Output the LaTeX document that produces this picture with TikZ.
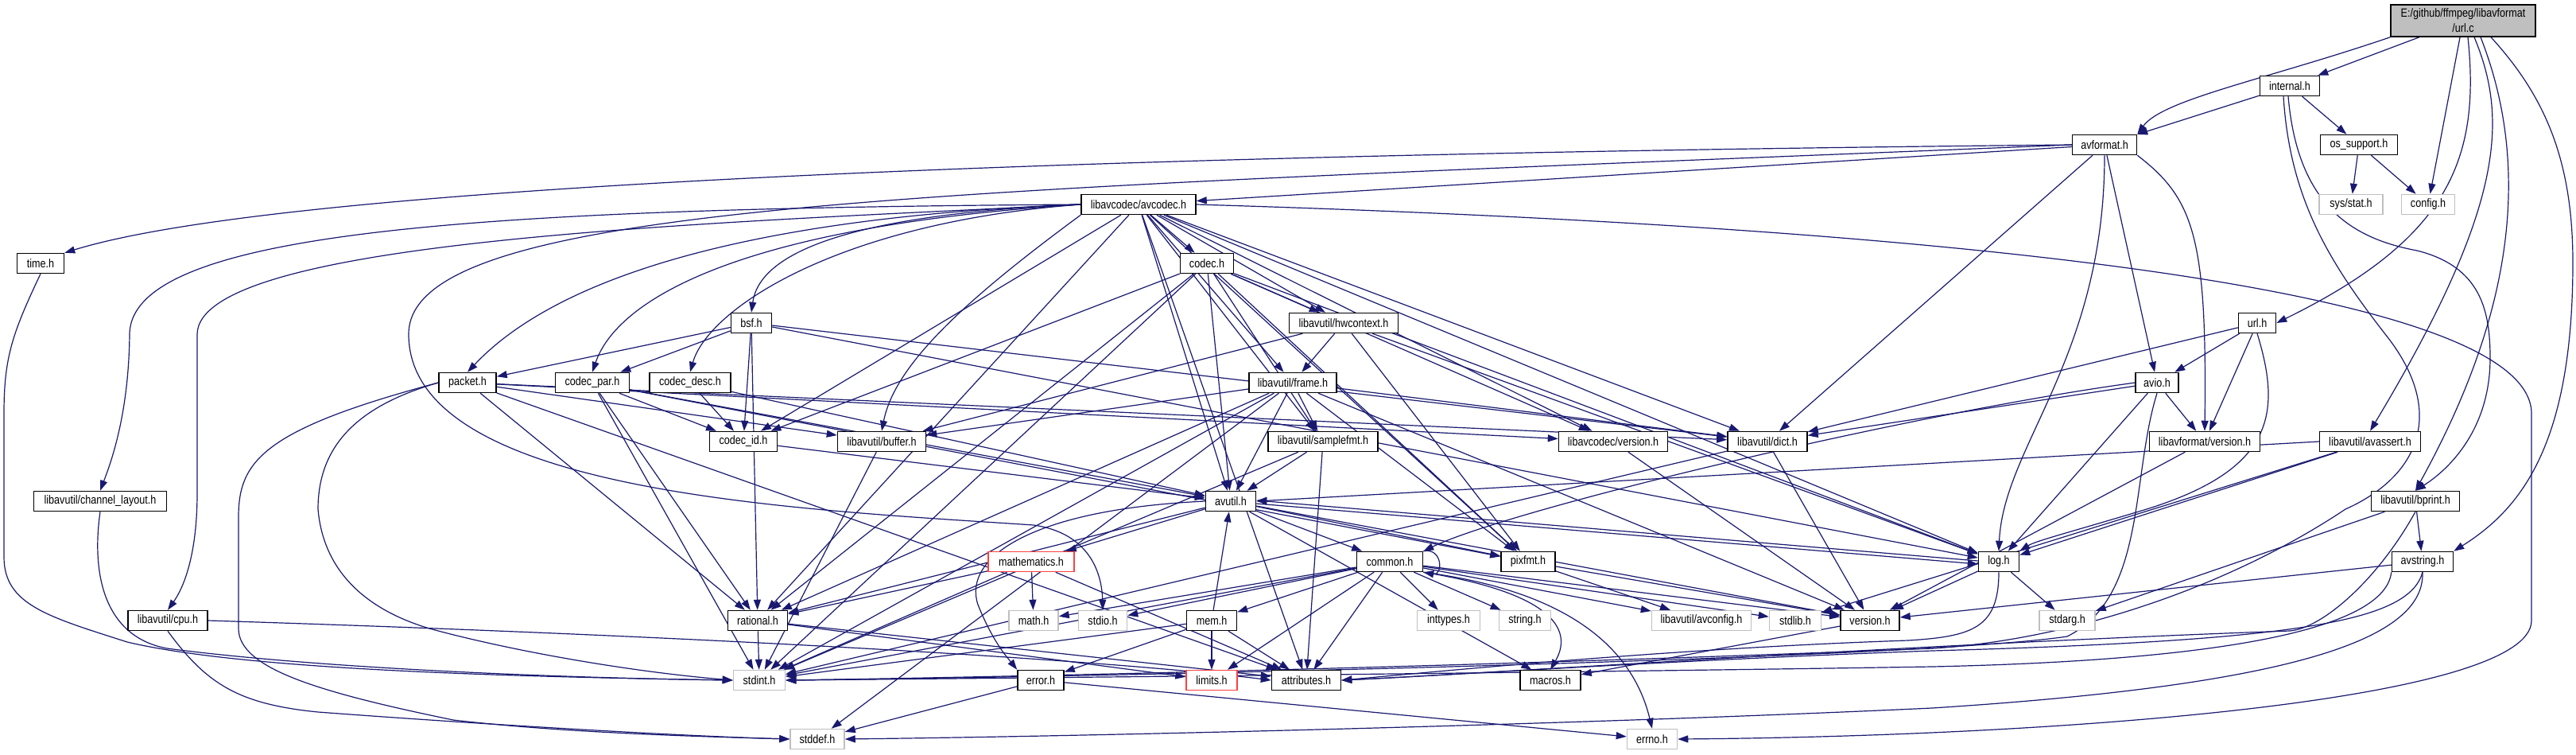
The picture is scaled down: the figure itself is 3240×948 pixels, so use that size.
\documentclass[tikz,border=0pt]{standalone}
\usepackage{fontspec}
\setmainfont{Liberation Sans}[FakeStretch=0.84]
\usetikzlibrary{arrows.meta}
\definecolor{edgeblue}{RGB}{25,25,112}
\definecolor{sysgray}{RGB}{191,191,191}
\definecolor{truncred}{RGB}{255,64,64}
\definecolor{filegray}{RGB}{191,191,191}
\pgfdeclarelayer{bg}
\pgfdeclarelayer{edges}
\pgfsetlayers{bg,edges,main}
\tikzset{
  nd/.style={draw=black, line width=1.5pt, fill=white, minimum height=25pt, inner sep=0pt, font=\fontsize{15}{17}\selectfont},
  sys/.style={nd, draw=sysgray},
  trn/.style={nd, draw=truncred},
  e/.style={draw=edgeblue, line width=1.2pt, -{Triangle[length=13pt,width=9pt]}},
}
\begin{document}
\begin{tikzpicture}[x=1pt,y=-1pt]
\begin{pgfonlayer}{bg}
\fill[white] (0,0) rectangle (3240,948);
\end{pgfonlayer}
\useasboundingbox (0,0) rectangle (3240,948);
% nodes
\node[nd, fill=filegray, minimum width=182pt, minimum height=40pt, align=center, font=\fontsize{15}{19}\selectfont] (urlc) at (3098,26) {E:/github/ffmpeg/libavformat\\/url.c};
\node[nd, minimum width=75pt] (internal) at (2880,108) {internal.h};
\node[nd, minimum width=81pt] (avformat) at (2647,182) {avformat.h};
\node[nd, minimum width=97pt] (ossupport) at (2967,182) {os\_support.h};
\node[sys, minimum width=80pt] (sysstat) at (2957,257) {sys/stat.h};
\node[sys, minimum width=67pt] (config) at (3054,257) {config.h};
\node[nd, minimum width=144pt] (avcodec) at (1432,257) {libavcodec/avcodec.h};
\node[nd, minimum width=67pt] (codec) at (1518,331) {codec.h};
\node[nd, minimum width=59pt] (timeh) at (51,331) {time.h};
\node[nd, minimum width=51pt] (bsf) at (945,406) {bsf.h};
\node[nd, minimum width=137pt] (hwcontext) at (1690,406) {libavutil/hwcontext.h};
\node[nd, minimum width=47pt] (urlh) at (2839,406) {url.h};
\node[nd, minimum width=72pt] (packet) at (588,481) {packet.h};
\node[nd, minimum width=93pt] (codecpar) at (745,481) {codec\_par.h};
\node[nd, minimum width=102pt] (codecdesc) at (868,481) {codec\_desc.h};
\node[nd, minimum width=110pt] (frame) at (1626,481) {libavutil/frame.h};
\node[nd, minimum width=54pt] (avio) at (2713,481) {avio.h};
\node[nd, minimum width=85pt] (codecid) at (935,555) {codec\_id.h};
\node[nd, minimum width=111pt] (buffer) at (1109,555) {libavutil/buffer.h};
\node[nd, minimum width=138pt] (samplefmt) at (1664,555) {libavutil/samplefmt.h};
\node[nd, minimum width=137pt] (lavcver) at (2029,555) {libavcodec/version.h};
\node[nd, minimum width=100pt] (dict) at (2223,555) {libavutil/dict.h};
\node[nd, minimum width=139pt] (lavfver) at (2773,555) {libavformat/version.h};
\node[nd, minimum width=127pt] (avassert) at (2981,555) {libavutil/avassert.h};
\node[nd, minimum width=167pt] (chlayout) at (126,630) {libavutil/channel\_layout.h};
\node[nd, minimum width=63pt] (avutil) at (1548,630) {avutil.h};
\node[nd, minimum width=111pt] (bprint) at (3038,630) {libavutil/bprint.h};
\node[trn, minimum width=108pt] (mathematics) at (1297,706) {mathematics.h};
\node[nd, minimum width=83pt] (common) at (1748,706) {common.h};
\node[nd, minimum width=68pt] (pixfmt) at (1922,706) {pixfmt.h};
\node[nd, minimum width=51pt] (log) at (2514,706) {log.h};
\node[nd, minimum width=77pt] (avstring) at (3047,706) {avstring.h};
\node[nd, minimum width=100pt] (cpu) at (211,780) {libavutil/cpu.h};
\node[nd, minimum width=75pt] (rational) at (953,780) {rational.h};
\node[sys, minimum width=62pt] (math) at (1300,780) {math.h};
\node[sys, minimum width=61pt] (stdio) at (1387,780) {stdio.h};
\node[nd, minimum width=63pt] (mem) at (1524,780) {mem.h};
\node[sys, minimum width=79pt] (inttypes) at (1822,780) {inttypes.h};
\node[sys, minimum width=65pt] (string) at (1918,780) {string.h};
\node[sys, minimum width=125pt] (avconfig) at (2140,780) {libavutil/avconfig.h};
\node[sys, minimum width=65pt] (stdlib) at (2258,780) {stdlib.h};
\node[nd, minimum width=74pt] (version) at (2352,780) {version.h};
\node[sys, minimum width=70pt] (stdarg) at (2600,780) {stdarg.h};
\node[sys, minimum width=65pt] (stdint) at (955,855) {stdint.h};
\node[nd, minimum width=58pt] (error) at (1309,855) {error.h};
\node[trn, minimum width=64pt] (limits) at (1524,855) {limits.h};
\node[nd, minimum width=87pt] (attributes) at (1643,855) {attributes.h};
\node[nd, minimum width=76pt] (macros) at (1950,855) {macros.h};
\node[sys, minimum width=68pt] (stddef) at (1028,929) {stddef.h};
\node[sys, minimum width=63pt] (errno) at (2078,929) {errno.h};

\begin{pgfonlayer}{edges}
% url.c
\draw[e] (urlc.south west) .. controls (2850,100) and (2720,125) .. (avformat.north east);
\draw[e] (urlc) -- (internal);
\draw[e] (urlc) -- (config);
\draw[e] ([xshift=6pt]urlc.south) .. controls (3120,200) and (3080,300) .. (urlh.east);
\draw[e] ([xshift=14pt]urlc.south) .. controls (3155,150) and (3150,260) .. (avassert.north);
\draw[e] ([xshift=22pt]urlc.south) .. controls (3200,250) and (3130,450) .. (bprint.north);
\draw[e] ([xshift=35pt]urlc.south) .. controls (3200,120) and (3236,200) .. (3236,330) .. controls (3236,560) and (3170,640) .. (avstring.north east);
% internal
\draw[e] (internal) -- (avformat);
\draw[e] (internal) -- (ossupport);
\draw[e] ([xshift=-2pt]internal.south) .. controls (2890,260) and (2960,300) .. (3040,315) .. controls (3120,335) and (3132,390) .. (3132,450) .. controls (3132,540) and (3080,590) .. (bprint.north);
\draw[e] ([xshift=-8pt]internal.south) .. controls (2880,250) and (2930,330) .. (3000,420) .. controls (3080,520) and (3040,600) .. (2950,640) .. controls (2800,740) and (2600,805) .. (2430,815) .. controls (1800,840) and (1200,852) .. (stdint.east);
\draw[e] (ossupport) -- (sysstat);
\draw[e] (ossupport) -- (config);
% avformat
\draw[e] (avformat.west) .. controls (1300,195) and (350,235) .. (timeh.north east);
\draw[e] (avformat.west) .. controls (1200,240) and (514,250) .. (514,420) .. controls (514,620) and (1000,640) .. (1300,660) .. controls (1370,670) and (1386,720) .. (stdio.north);
\draw[e] (avformat) -- (avcodec);
\draw[e] (avformat) -- (dict);
\draw[e] (avformat.south) .. controls (2647,450) and (2520,560) .. (log.north);
\draw[e] (avformat) -- (avio);
\draw[e] (avformat.south east) .. controls (2760,250) and (2776,300) .. (lavfver.north);
% avcodec
\draw[e] (avcodec.east) .. controls (2600,290) and (3184,380) .. (3184,520) -- (3184,780) .. controls (3184,880) and (2600,925) .. (errno.east);
\draw[e] (avcodec) -- (samplefmt);
\draw[e] (avcodec) -- (attributes);
\draw[e] (avcodec) -- (avutil);
\draw[e] (avcodec.south west) .. controls (1210,380) and (1125,460) .. (buffer.north);
\draw[e] (avcodec.west) .. controls (900,280) and (250,300) .. (248,420) -- (248,620) .. controls (248,700) and (230,740) .. (cpu.north);
\draw[e] (avcodec.west) .. controls (600,262) and (165,290) .. (163,420) .. controls (162,520) and (140,580) .. (chlayout.north);
\draw[e] (avcodec) -- (dict);
\draw[e] (avcodec) -- (frame);
\draw[e] (avcodec) -- (hwcontext);
\draw[e] (avcodec) -- (log);
\draw[e] (avcodec) -- (pixfmt);
\draw[e] (avcodec) -- (rational);
\draw[e] (avcodec.west) .. controls (1060,270) and (955,320) .. (bsf.north);
\draw[e] (avcodec) -- (codec);
\draw[e] (avcodec.west) .. controls (1050,280) and (890,390) .. (codecdesc.north);
\draw[e] (avcodec.west) .. controls (920,285) and (775,380) .. (codecpar.north);
\draw[e] (avcodec) -- (codecid);
\draw[e] (avcodec.west) .. controls (880,275) and (680,370) .. (packet.north);
\draw[e] (avcodec) -- (lavcver);
% codec
\draw[e] (codec) -- (stdint);
\draw[e] (codec) -- (avutil);
\draw[e] (codec) -- (hwcontext);
\draw[e] (codec) -- (log);
\draw[e] (codec) -- (pixfmt);
\draw[e] (codec) -- (rational);
\draw[e] (codec) -- (samplefmt);
\draw[e] (codec) -- (codecid);
\draw[e] (codec) -- (lavcver);
% bsf
\draw[e] (bsf) -- (dict);
\draw[e] (bsf) -- (log);
\draw[e] (bsf) -- (rational);
\draw[e] (bsf) -- (codecid);
\draw[e] (bsf) -- (codecpar);
\draw[e] (bsf) -- (packet);
% packet
\draw[e] (packet.west) .. controls (330,540) and (300,580) .. (300,650) -- (300,790) .. controls (300,840) and (400,870) .. (570,905) .. controls (700,920) and (850,925) .. (stddef.west);
\draw[e] (packet.west) .. controls (450,510) and (400,560) .. (400,640) .. controls (405,700) and (440,760) .. (540,790) .. controls (650,820) and (800,845) .. (stdint.west);
\draw[e] (packet) -- (attributes);
\draw[e] (packet) -- (buffer);
\draw[e] (packet) -- (dict);
\draw[e] (packet) -- (rational);
\draw[e] (packet) -- (lavcver);
% codec_par
\draw[e] (codecpar) -- (stdint);
\draw[e] (codecpar) -- (avutil);
\draw[e] (codecpar) -- (rational);
\draw[e] (codecpar) -- (pixfmt);
\draw[e] (codecpar) -- (codecid);
% codec_desc / codec_id
\draw[e] (codecdesc) -- (avutil);
\draw[e] (codecdesc) -- (codecid);
\draw[e] (codecid) -- (avutil);
% hwcontext
\draw[e] (hwcontext) -- (buffer);
\draw[e] (hwcontext) -- (frame);
\draw[e] (hwcontext) -- (log);
\draw[e] (hwcontext) -- (pixfmt);
% frame
\draw[e] (frame) -- (stddef);
\draw[e] (frame) -- (stdint);
\draw[e] (frame) -- (avutil);
\draw[e] (frame) -- (buffer);
\draw[e] (frame) -- (dict);
\draw[e] (frame) -- (rational);
\draw[e] (frame) -- (samplefmt);
\draw[e] (frame) -- (pixfmt);
\draw[e] (frame) -- (version);
% samplefmt, buffer, versions, dict
\draw[e] (samplefmt) -- (stdint);
\draw[e] (samplefmt) -- (avutil);
\draw[e] (samplefmt) -- (attributes);
\draw[e] (buffer) -- (stdint);
\draw[e] (lavcver) -- (version);
\draw[e] (dict) -- (stdint);
\draw[e] (dict) -- (version);
% url.h
\draw[e] (urlh) -- (avio);
\draw[e] (urlh) -- (lavfver);
\draw[e] (urlh) -- (dict);
\draw[e] (urlh.south) .. controls (2870,520) and (2860,590) .. (2700,640) .. controls (2600,670) and (2560,680) .. (log.north east);
% avio
\draw[e] (avio.south) .. controls (2680,600) and (2700,750) .. (2600,800) .. controls (2400,830) and (1300,852) .. (stdint.east);
\draw[e] (avio.west) .. controls (2400,520) and (1900,640) .. (common.north east);
\draw[e] (avio) -- (dict);
\draw[e] (avio) -- (log);
\draw[e] (avio) -- (lavfver);
\draw[e] (lavfver) -- (version);
% avassert
\draw[e] (avassert) -- (stdlib);
\draw[e] (avassert.west) -- (avutil.east);
\draw[e] (avassert) -- (log);
% bprint
\draw[e] (bprint) -- (stdarg);
\draw[e] (bprint.south) .. controls (2990,730) and (2920,790) .. (2880,793) .. controls (2400,810) and (1900,845) .. (attributes.east);
\draw[e] (bprint) -- (avstring);
% avstring
\draw[e] (avstring.south) .. controls (3050,800) and (2900,860) .. (2430,890) .. controls (2000,910) and (1400,925) .. (stddef.east);
\draw[e] (avstring.south west) .. controls (3000,790) and (2800,830) .. (2430,838) .. controls (2000,845) and (1300,852) .. (stdint.east);
\draw[e] (avstring.south) .. controls (3030,780) and (2900,805) .. (2430,818) .. controls (2100,830) and (1800,850) .. (attributes.east);
\draw[e] (avstring) -- (version);
% time, channel_layout, cpu
\draw[e] (timeh.south) .. controls (15,420) and (5,450) .. (5,520) -- (5,700) .. controls (5,760) and (60,775) .. (160,807) .. controls (300,840) and (600,850) .. (stdint.west);
\draw[e] (chlayout.south) .. controls (115,720) and (130,800) .. (210,815) .. controls (400,840) and (700,852) .. (stdint.west);
\draw[e] (cpu.south) .. controls (260,860) and (300,885) .. (400,895) .. controls (600,910) and (850,925) .. (stddef.west);
\draw[e] (cpu.east) .. controls (900,800) and (1400,830) .. (attributes.west);
% avutil
\draw[e] (avutil) -- (common);
\draw[e] (avutil.west) .. controls (1300,640) and (1210,700) .. (1230,760) .. controls (1250,810) and (1270,830) .. (error.north west);
\draw[e] (avutil) -- (rational);
\draw[e] (avutil) -- (version);
\draw[e] (avutil) -- (macros);
\draw[e] (avutil) -- (mathematics);
\draw[e] ([yshift=-3pt]avutil.east) -- ([yshift=-3pt]log.west);
\draw[e] ([yshift=1pt]log.west) -- ([yshift=1pt]avutil.east);
\draw[e] (avutil) -- (pixfmt);
% log
\draw[e] (log) -- (stdarg);
\draw[e] (log.south) .. controls (2514,790) and (2480,800) .. (2400,805) .. controls (2100,815) and (1800,845) .. (attributes.east);
\draw[e] (log) -- (version);
% common
\draw[e] (common.south east) .. controls (1950,740) and (2050,800) .. (errno.north);
\draw[e] (common) -- (inttypes);
\draw[e] (common) -- (limits);
\draw[e] (common) -- (math);
\draw[e] (common) -- (stdint);
\draw[e] (common) -- (stdio);
\draw[e] (common) -- (stdlib);
\draw[e] (common) -- (string);
\draw[e] (common) -- (attributes);
\draw[e] (common.south east) .. controls (1950,745) and (1980,790) .. (macros.north);
\draw[e] (common) -- (version);
\draw[e] (common) -- (avconfig);
\draw[e] (common) -- (mem);
\draw[e] (common.north east) .. controls (1815,688) and (1815,724) .. (common.south east);
% mathematics
\draw[e] (mathematics) -- (stdint);
\draw[e] (mathematics) -- (math);
\draw[e] (mathematics) -- (attributes);
\draw[e] (mathematics) -- (rational);
% pixfmt, mem, rational, error, version
\draw[e] (pixfmt) -- (avconfig);
\draw[e] (pixfmt) -- (version);
\draw[e] (mem) -- (limits);
\draw[e] (mem) -- (stdint);
\draw[e] (mem) -- (attributes);
\draw[e] (mem) -- (error);
\draw[e] (mem) -- (avutil);
\draw[e] (rational) -- (stdint);
\draw[e] (rational) -- (limits);
\draw[e] (rational) -- (attributes);
\draw[e] (error) -- (errno);
\draw[e] (error) -- (stddef);
\draw[e] (version) -- (macros);
\end{pgfonlayer}
\end{tikzpicture}
\end{document}
